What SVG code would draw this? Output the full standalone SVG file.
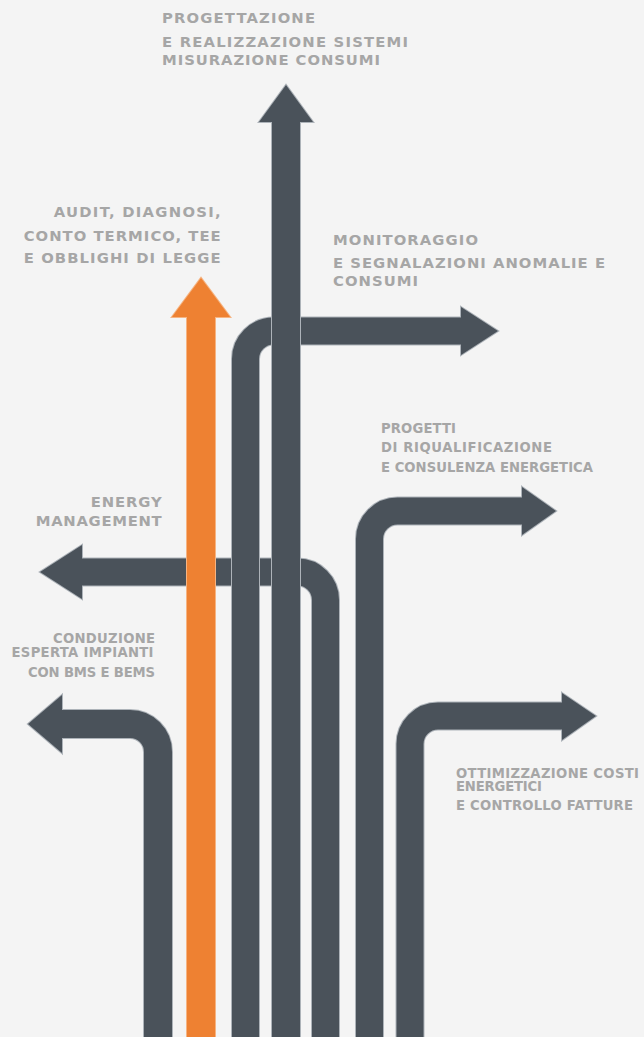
<svg xmlns="http://www.w3.org/2000/svg" xmlns:xlink="http://www.w3.org/1999/xlink" width="644" height="1037" viewBox="0 0 644 1037">
<style>
.bg{fill:#f4f4f4}
.so{fill:none;stroke:#adb3b9}
.sf{fill:none;stroke:#4a525a}
.ho{fill:#adb3b9;stroke:#adb3b9;stroke-width:2}
.hf{fill:#4a525a}
.oso{fill:none;stroke:#f6b482}
.osf{fill:none;stroke:#ee8132}
.oho{fill:#f6b482;stroke:#f6b482;stroke-width:2}
.ohf{fill:#ee8132}
.w28o{stroke-width:30}.w28f{stroke-width:28}
.w27o{stroke-width:29}.w27f{stroke-width:27}
text{font-family:"DejaVu Sans","Verdana",sans-serif;font-weight:bold;fill:#a6a6a6}
.t14{font-size:14.8px}
.t12{font-size:13.2px}
</style>
<defs>
<path id="p1" d="M158,1037 V752 A28,28 0 0 0 130,724 H62"/>
<polygon id="h1" points="62,695 28,724 62,753"/>
<path id="p2" d="M201,1037 V316"/>
<polygon id="h2" points="172,317 201,278 230,317"/>
<path id="p3" d="M245.5,1037 V359 A28,28 0 0 1 273.5,331 H462"/>
<polygon id="h3" points="461,307 498,331 461,355"/>
<path id="p4" d="M286,1037 V121"/>
<polygon id="h4" points="259,122 286,85 313,122"/>
<path id="p5" d="M325.5,1037 V600 A28,28 0 0 0 297.5,572 H81"/>
<polygon id="h5" points="82,545 40,572 82,599"/>
<path id="p6" d="M369.5,1037 V539 A28,28 0 0 1 397.5,511 H523"/>
<polygon id="h6" points="522,487 556,511 522,535"/>
<path id="p7" d="M410,1037 V744 A28,28 0 0 1 438,716 H563"/>
<polygon id="h7" points="562,693 596,716 562,740"/>
</defs>
<rect class="bg" x="0" y="0" width="644" height="1037"/>
<g id="connectors">
<g id="arrow-energy">
<use xlink:href="#p5" class="so w27o"/><use xlink:href="#h5" class="ho"/>
<use xlink:href="#p5" class="sf w27f"/><use xlink:href="#h5" class="hf"/>
</g>
<g id="arrow-monitoraggio">
<use xlink:href="#p3" class="so w27o"/><use xlink:href="#h3" class="ho"/>
<use xlink:href="#p3" class="sf w27f"/><use xlink:href="#h3" class="hf"/>
</g>
<g id="arrow-progettazione">
<use xlink:href="#p4" class="so w28o"/><use xlink:href="#h4" class="ho"/>
<use xlink:href="#p4" class="sf w28f"/><use xlink:href="#h4" class="hf"/>
</g>
<g id="arrow-audit">
<use xlink:href="#p2" class="oso w28o"/><use xlink:href="#h2" class="oho"/>
<use xlink:href="#p2" class="osf w28f"/><use xlink:href="#h2" class="ohf"/>
</g>
<g id="arrow-conduzione">
<use xlink:href="#p1" class="so w28o"/><use xlink:href="#h1" class="ho"/>
<use xlink:href="#p1" class="sf w28f"/><use xlink:href="#h1" class="hf"/>
</g>
<g id="arrow-progetti">
<use xlink:href="#p6" class="so w27o"/><use xlink:href="#h6" class="ho"/>
<use xlink:href="#p6" class="sf w27f"/><use xlink:href="#h6" class="hf"/>
</g>
<g id="arrow-ottimizzazione">
<use xlink:href="#p7" class="so w27o"/><use xlink:href="#h7" class="ho"/>
<use xlink:href="#p7" class="sf w27f"/><use xlink:href="#h7" class="hf"/>
</g>
</g>
<g id="label-progettazione" class="t14">
<text x="162" y="23.3" textLength="153" lengthAdjust="spacing">PROGETTAZIONE</text>
<text x="162" y="46.7" textLength="246" lengthAdjust="spacing">E REALIZZAZIONE SISTEMI</text>
<text x="162" y="65" textLength="218" lengthAdjust="spacing">MISURAZIONE CONSUMI</text>
</g>
<g id="label-audit" class="t14" text-anchor="end">
<text x="220.7" y="217.3" textLength="167" lengthAdjust="spacing">AUDIT, DIAGNOSI,</text>
<text x="220.7" y="241" textLength="197" lengthAdjust="spacing">CONTO TERMICO, TEE</text>
<text x="220.7" y="263.3" textLength="197" lengthAdjust="spacing">E OBBLIGHI DI LEGGE</text>
</g>
<g id="label-monitoraggio" class="t14">
<text x="333" y="245" textLength="145" lengthAdjust="spacing">MONITORAGGIO</text>
<text x="333" y="267.7" textLength="272" lengthAdjust="spacing">E SEGNALAZIONI ANOMALIE E</text>
<text x="333" y="285.7" textLength="85" lengthAdjust="spacing">CONSUMI</text>
</g>
<g id="label-progetti" class="t12">
<text x="381" y="432.7" textLength="75" lengthAdjust="spacing">PROGETTI</text>
<text x="381" y="452.3" textLength="171" lengthAdjust="spacing">DI RIQUALIFICAZIONE</text>
<text x="381" y="471.7" textLength="212" lengthAdjust="spacing">E CONSULENZA ENERGETICA</text>
</g>
<g id="label-energy" class="t14" text-anchor="end">
<text x="161.7" y="507.3" textLength="71" lengthAdjust="spacing">ENERGY</text>
<text x="161.7" y="526" textLength="126" lengthAdjust="spacing">MANAGEMENT</text>
</g>
<g id="label-conduzione" class="t12" text-anchor="end">
<text x="155" y="643.3" textLength="102" lengthAdjust="spacing">CONDUZIONE</text>
<text x="153.5" y="657.3" textLength="142" lengthAdjust="spacing">ESPERTA IMPIANTI</text>
<text x="155" y="677.3" textLength="127" lengthAdjust="spacing">CON BMS E BEMS</text>
</g>
<g id="label-ottimizzazione" class="t12">
<text x="456" y="777.7" textLength="183" lengthAdjust="spacing">OTTIMIZZAZIONE COSTI</text>
<text x="456" y="790.7" textLength="86" lengthAdjust="spacing">ENERGETICI</text>
<text x="456" y="810" textLength="177" lengthAdjust="spacing">E CONTROLLO FATTURE</text>
</g>
</svg>
